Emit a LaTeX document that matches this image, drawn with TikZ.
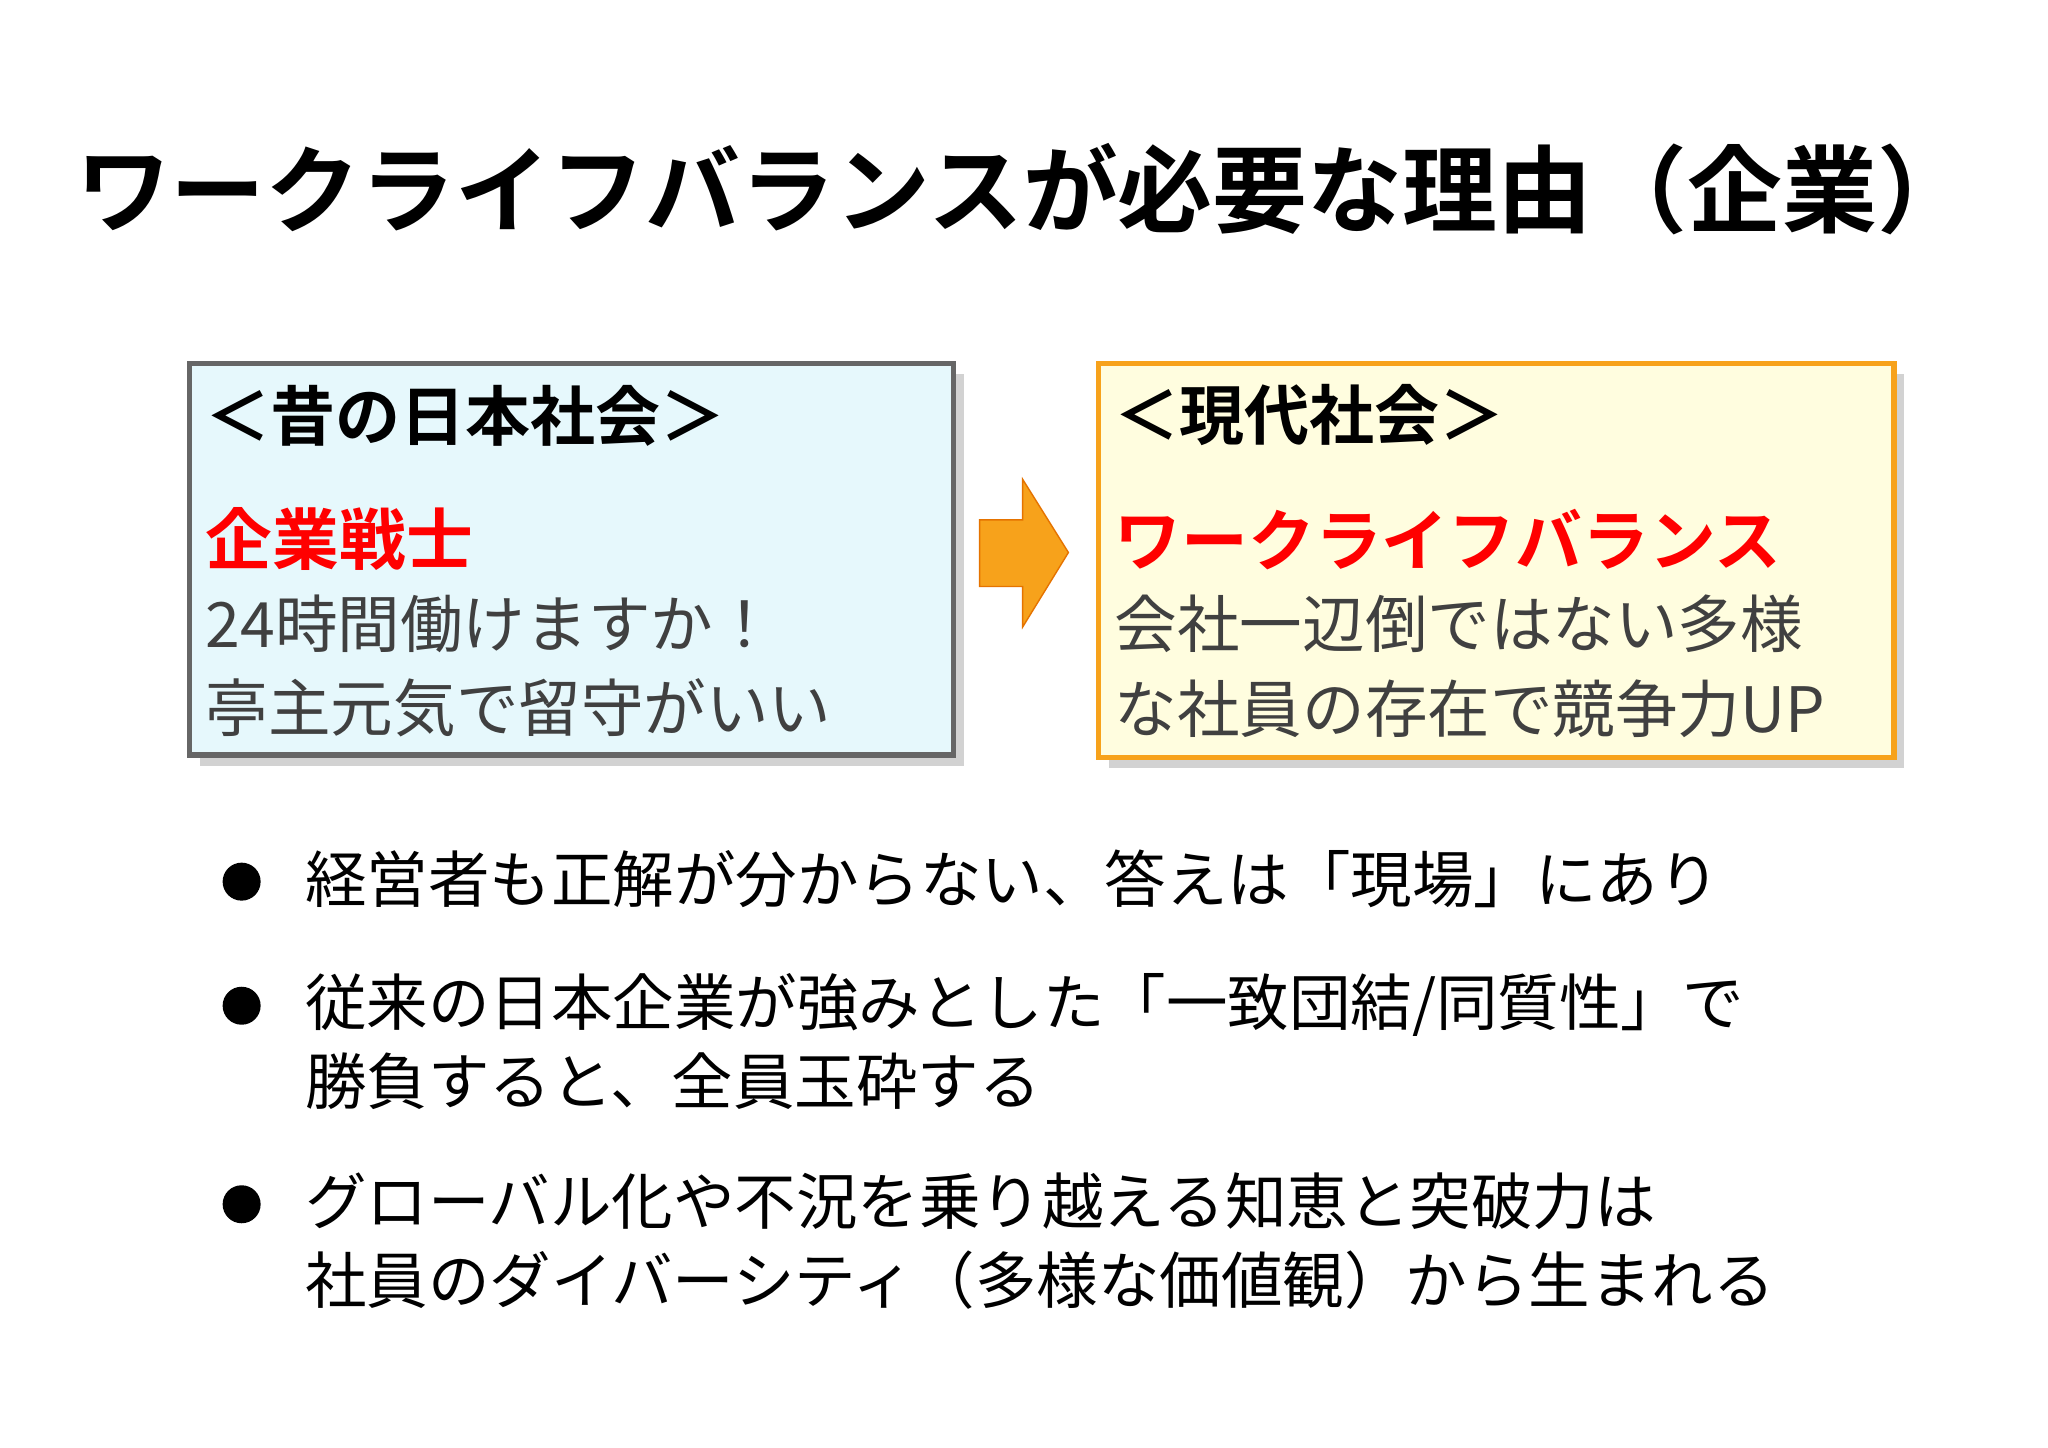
\documentclass[tikz,border=0pt]{standalone}
\usepackage{fontspec}
\setmainfont{Noto Sans CJK JP}
\newfontfamily\jpb{Noto Sans CJK JP Bold}
\usetikzlibrary{shadows}
\definecolor{cyanbg}{HTML}{E6F8FC}
\definecolor{yelbg}{HTML}{FFFDDF}
\definecolor{orng}{HTML}{F7A21B}
\definecolor{bodyg}{HTML}{404040}
\tikzset{
 box/.style={draw, line width=1.5pt, drop shadow={opacity=0.35,shadow xshift=3pt,shadow yshift=-3pt}},
 hdr/.style={anchor=west, inner sep=0pt, font=\jpb\fontsize{18.5}{20}\selectfont},
 red/.style={anchor=west, inner sep=0pt, text=red, font=\jpb\fontsize{19}{22}\selectfont},
 body/.style={anchor=north west, inner sep=0pt, text=bodyg, align=left, font=\fontsize{17.8}{23}\selectfont},
 blt/.style={anchor=north west, inner sep=0pt, align=left, font=\fontsize{17.5}{22.5}\selectfont},
 dot/.style={circle, fill=black, inner sep=0pt, minimum size=0.38cm}
}
\begin{document}
\begin{tikzpicture}[x=0.01306cm,y=-0.01306cm]
\useasboundingbox[fill=white] (0,0) rectangle (1568,1108);
\node[font=\jpb\fontsize{27}{32}\selectfont, inner sep=0pt] (title) at (784,145) {ワークライフバランスが必要な理由（企業）};
\node[box, draw=gray!80!black, fill=cyanbg, minimum width=585*0.01306cm, minimum height=300*0.01306cm, anchor=north west] (lb) at (143,276) {};
\node[box, draw=orng, fill=yelbg, minimum width=609*0.01306cm, minimum height=302*0.01306cm, anchor=north west] (rb) at (839,276) {};
\node[hdr] (lh) at (157,318) {＜昔の日本社会＞};
\node[red] (lr) at (157,413) {企業戦士};
\node[body] (lt) at (157,455) {24時間働けますか！\\[1pt]亭主元気で留守がいい};
\node[hdr] (rh) at (853,318) {＜現代社会＞};
\node[red] (rr) at (853,413) {ワークライフバランス};
\node[body] (rt) at (853,455) {会社一辺倒ではない多様\\[1pt]な社員の存在で競争力UP};
\fill[orng, draw=orange!90!black] (750,398) -- (783,398) -- (783,367) -- (818,423) -- (783,480) -- (783,449) -- (750,449) -- cycle;
\node[dot] (d1) at (185,675) {};
\node[blt] (b1) at (233,650) {経営者も正解が分からない、答えは「現場」にあり};
\node[dot] (d2) at (185,770) {};
\node[blt] (b2) at (233,745) {従来の日本企業が強みとした「一致団結/同質性」で\\勝負すると、全員玉砕する};
\node[dot] (d3) at (185,922) {};
\node[blt] (b3) at (233,897) {グローバル化や不況を乗り越える知恵と突破力は\\社員のダイバーシティ（多様な価値観）から生まれる};
\end{tikzpicture}
\end{document}
